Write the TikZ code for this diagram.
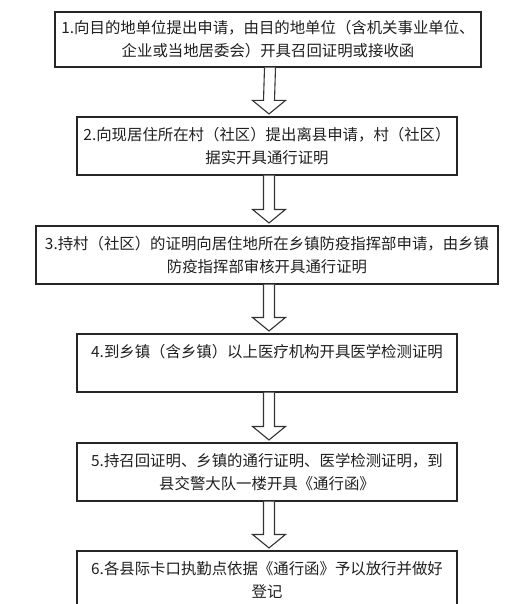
\documentclass[tikz,border=0pt]{standalone}
\usepackage{fontspec}
\newfontfamily\cjk{Noto Sans CJK SC}
\usetikzlibrary{calc}
\def\hollowarrow(#1)(#2){\draw[arrowline] ($(#1.south)+(-3.5,0)$) -- ($(#2.north)+(-3.5,-16)$) -- ($(#2.north)+(-14.5,-16)$) -- ($(#2.north)+(2,-2.5)$) -- ($(#2.north)+(18.5,-16)$) -- ($(#2.north)+(7.5,-16)$) -- ($(#1.south)+(7.5,0)$);}

\begin{document}
\begin{tikzpicture}[x=1pt,y=-1pt,
		stepbox/.style={draw=black!85, line width=1.1pt, inner sep=0pt, align=center, minimum height=58pt, text=black!88, font=\cjk\fontsize{15.4}{23}\selectfont},
		arrowline/.style={draw=black!80, line width=1.1pt, line join=miter, fill=white}]
			%%%%% START %%%%%
			
			\useasboundingbox (0,0) rectangle (523,604);
			\clip (0,0) rectangle (523,604);
			
			\node[stepbox, minimum width=426pt, minimum height=55pt] (b1) at (268, 39.5) {1.向目的地单位提出申请，由目的地单位（含机关事业单位、\\企业或当地居委会）开具召回证明或接收函};
			\node[stepbox, minimum width=380pt] (b2) at (267, 146) {2.向现居住所在村（社区）提出离县申请，村（社区）\\据实开具通行证明};
			\node[stepbox, minimum width=462pt] (b3) at (267, 255) {3.持村（社区）的证明向居住地所在乡镇防疫指挥部申请，由乡镇\\防疫指挥部审核开具通行证明};
			\node[stepbox, minimum width=380pt] (b4) at (267, 363) {4.到乡镇（含乡镇）以上医疗机构开具医学检测证明\\\phantom{证}};
			\node[stepbox, minimum width=380pt] (b5) at (267, 472) {5.持召回证明、乡镇的通行证明、医学检测证明，到\\县交警大队一楼开具《通行函》};
			\node[stepbox, minimum width=380pt] (b6) at (267, 580) {6.各县际卡口执勤点依据《通行函》予以放行并做好\\登记};
			
			\hollowarrow(b1)(b2)
			\hollowarrow(b2)(b3)
			\hollowarrow(b3)(b4)
			\hollowarrow(b4)(b5)
			\hollowarrow(b5)(b6)
			
			%%%%% END %%%%%
		\end{tikzpicture}
\end{document}
